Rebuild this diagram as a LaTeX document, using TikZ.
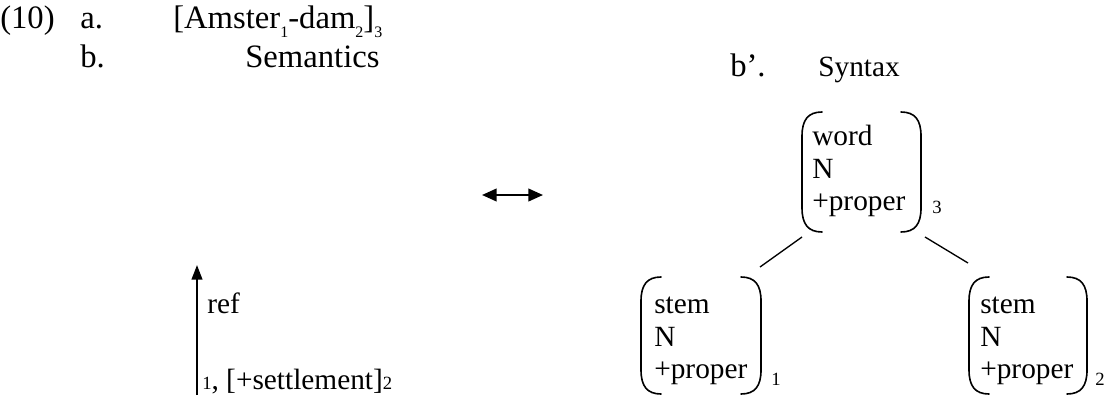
\documentclass[tikz,border=0pt]{standalone}
\usepackage{fontspec}
\setmainfont{Liberation Serif}
\usetikzlibrary{arrows.meta}
\newcommand\hsub[1]{\raisebox{-7pt}{\fontsize{12pt}{13pt}\selectfont #1}}
\newcommand\bsub[1]{{\fontsize{14pt}{16pt}\selectfont #1}}
\tikzset{
  hd/.style={font=\fontsize{24.5pt}{28pt}\selectfont, inner sep=0pt, anchor=base west},
  tx/.style={font=\fontsize{22pt}{24pt}\selectfont, inner sep=0pt, anchor=base west},
  sb/.style={font=\fontsize{14pt}{16pt}\selectfont, inner sep=0pt, anchor=base west},
  brk/.style={line width=1.2pt, line cap=round},
  treeedge/.style={line width=1pt},
  uparr/.style={line width=1.6pt, -{Triangle[length=11pt,width=8pt]}},
  dblarr/.style={line width=1.5pt, {Triangle[length=11pt,width=9.5pt]}-{Triangle[length=11pt,width=9.5pt]}},
  pics/avm/.style 2 args={code={
    \draw[brk] (20,0) .. controls (6,0) and (0,8) .. (0,24) -- (0,#2-24) .. controls (0,#2-8) and (6,#2) .. (20,#2);
    \draw[brk] (#1-20,0) .. controls (#1-6,0) and (#1,8) .. (#1,24) -- (#1,#2-24) .. controls (#1,#2-8) and (#1-6,#2) .. (#1-20,#2);
  }},
}
\begin{document}
\begin{tikzpicture}[x=0.75pt,y=-0.75pt]
\useasboundingbox (0,0) rectangle (1105,396);
% header
\node[hd] (num) at (0,28) {(10)};
\node[hd] (la) at (80,28) {a.};
\node[hd] (ex) at (173,28) {[Amster\hsub{1}-dam\hsub{2}]\hsub{3}};
\node[hd] (lb) at (80,67) {b.};
\node[hd] (sem) at (245,67) {Semantics};
\node[hd] (lbp) at (730,76) {b’.};
\node[tx] (syn) at (818,76) {Syntax};
% semantics
\coordinate (abot) at (197,395);
\coordinate (atop) at (197,265);
\draw[uparr] (abot) -- (atop);
\node[tx] (ref) at (207,313) {ref};
\node[tx] (sett) at (202,389) {\bsub{1}, [+settlement]\bsub{2}};
% double arrow
\coordinate (da1) at (482,195);
\coordinate (da2) at (543,195);
\draw[dblarr] (da1) -- (da2);
% word AVM
\pic at (802,112) {avm={119}{120}};
\node[tx] (w1) at (812,145) {word};
\node[tx] (w2) at (812,178) {N};
\node[tx] (w3) at (812,210) {+proper};
\node[sb] (w4) at (932,213) {3};
% left stem
\pic at (641,277) {avm={120}{117}};
\node[tx] (s1) at (654,313) {stem};
\node[tx] (s2) at (654,346) {N};
\node[tx] (s3) at (654,378) {+proper};
\node[sb] (s4) at (771,385) {1};
% right stem
\pic at (969,277) {avm={118}{117}};
\node[tx] (t1) at (980,313) {stem};
\node[tx] (t2) at (980,346) {N};
\node[tx] (t3) at (980,378) {+proper};
\node[sb] (t4) at (1095,385) {2};
% tree edges
\coordinate (wl) at (802,237);
\coordinate (sl) at (760,267);
\coordinate (wr) at (925,237);
\coordinate (tr) at (968,263);
\draw[treeedge] (wl) -- (sl);
\draw[treeedge] (wr) -- (tr);
\end{tikzpicture}
\end{document}
